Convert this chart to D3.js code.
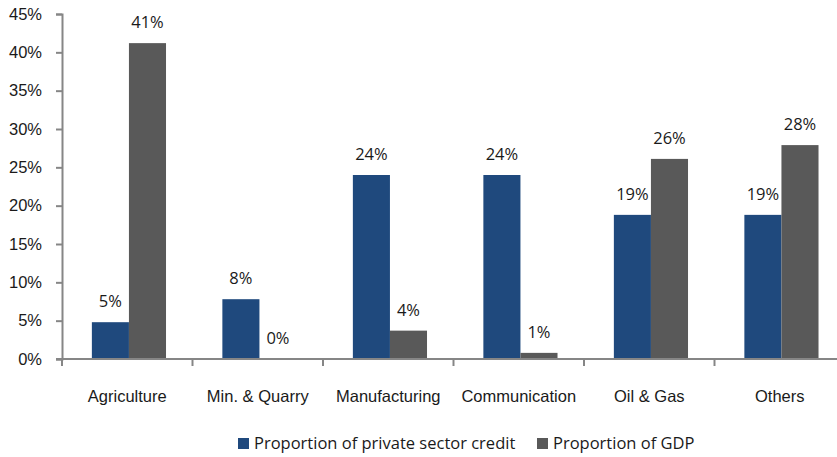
<!DOCTYPE html>
<html>
<head>
<meta charset="utf-8">
<script src="https://cdn.jsdelivr.net/npm/d3@7"></script>
<style>
  html, body { margin: 0; padding: 0; background: #fff; }
  svg { display: block; font-family: "Open Sans", "Liberation Sans", Arial, sans-serif; }
</style>
</head>
<body>
<svg id="chart" width="837" height="457"></svg>
<script>
// Sector shares: private sector credit vs. GDP (percent)
const categories = ["Agriculture", "Min. & Quarry", "Manufacturing", "Communication", "Oil & Gas", "Others"];
const creditShare = [4.8, 7.8, 24.0, 24.0, 18.8, 18.8];
const gdpShare = [41.2, 0.0, 3.7, 0.8, 26.1, 27.9];
const creditLabels = ["5%", "8%", "24%", "24%", "19%", "19%"];
const gdpLabels = ["41%", "0%", "4%", "1%", "26%", "28%"];
const seriesNames = ["Proportion of private sector credit", "Proportion of GDP"];
const yTicks = [0, 5, 10, 15, 20, 25, 30, 35, 40, 45];

const colors = ["#1F497D", "#595959"];
const axisColor = "#868686";
const textColor = "#1a1a1a";
const fontSize = 16.5;

const svg = d3.select("#chart");
const plot = { left: 62, right: 845, top: 14, bottom: 359 };

const x = d3.scaleBand().domain(categories).range([plot.left, plot.right]).padding(0);
const xs = d3.scaleBand().domain([0, 1]).range([0, x.bandwidth()])
  .paddingInner(0).paddingOuter(0.76).align(0.53);
const y = d3.scaleLinear().domain([0, 45]).range([plot.bottom, plot.top]);

const series = [creditShare, gdpShare];
const labels = [creditLabels, gdpLabels];

// Bars
series.forEach((vals, s) => {
  svg.append("g").selectAll("rect").data(vals).join("rect")
    .attr("x", (d, i) => x(categories[i]) + xs(s))
    .attr("y", d => y(d))
    .attr("width", xs.bandwidth())
    .attr("height", d => y(0) - y(d))
    .attr("fill", colors[s]);
});

// Value labels above bars
series.forEach((vals, s) => {
  svg.append("g").selectAll("text").data(vals).join("text")
    .attr("x", (d, i) => x(categories[i]) + xs(s) + xs.bandwidth() / 2)
    .attr("y", d => y(d) - 15)
    .attr("text-anchor", "middle")
    .attr("font-size", fontSize)
    .attr("fill", textColor)
    .text((d, i) => labels[s][i]);
});

// Y axis
const yAxis = svg.append("g")
  .attr("transform", `translate(${plot.left},0)`)
  .call(d3.axisLeft(y).tickValues(yTicks).tickSize(6).tickPadding(14).tickFormat(d => d + "%"));
yAxis.select(".domain").attr("stroke", axisColor).attr("stroke-width", 2);
yAxis.selectAll(".tick line").attr("stroke", axisColor).attr("stroke-width", 2);
yAxis.selectAll(".tick text").attr("font-size", fontSize).attr("fill", textColor)
  .attr("font-family", null);

// X axis
const xAxis = svg.append("g")
  .attr("transform", `translate(0,${plot.bottom})`)
  .call(d3.axisBottom(x).tickSize(0));
xAxis.select(".domain").attr("stroke", axisColor).attr("stroke-width", 2)
  .attr("d", `M${plot.left - 6},0H${plot.right}`);
xAxis.selectAll(".tick text").attr("font-size", fontSize).attr("fill", textColor)
  .attr("font-family", null).attr("y", 43).attr("dy", 0);
// Category separators
svg.append("g").selectAll("line").data(categories).join("line")
  .attr("x1", d => x(d) + x.step()).attr("x2", d => x(d) + x.step())
  .attr("y1", plot.bottom).attr("y2", plot.bottom + 7)
  .attr("stroke", axisColor).attr("stroke-width", 2);
svg.append("line").attr("x1", plot.left).attr("x2", plot.left)
  .attr("y1", plot.bottom).attr("y2", plot.bottom + 7)
  .attr("stroke", axisColor).attr("stroke-width", 2);

// Legend
const legend = svg.append("g").attr("transform", "translate(238,438)");
const legendX = [0, 299];
seriesNames.forEach((name, s) => {
  const g = legend.append("g").attr("transform", `translate(${legendX[s]},0)`);
  g.append("rect").attr("width", 11).attr("height", 11).attr("fill", colors[s]);
  g.append("text").attr("x", 16).attr("y", 11).attr("font-size", fontSize)
    .attr("fill", textColor).text(name);
});
</script>
</body>
</html>
